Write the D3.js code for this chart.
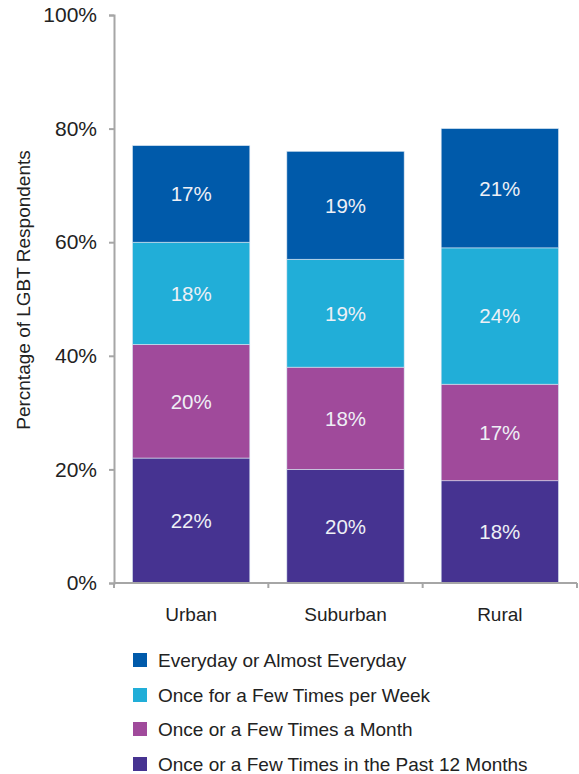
<!DOCTYPE html>
<html>
<head>
<meta charset="utf-8">
<script src="https://cdn.jsdelivr.net/npm/d3@7"></script>
<style>
  html, body { margin: 0; padding: 0; background: #fff; }
  svg { display: block; font-family: "Liberation Sans", Arial, sans-serif; }
</style>
</head>
<body>
<svg id="chart" width="579" height="774"></svg>
<script>
// Community types on the x axis
const categories = ["Urban", "Suburban", "Rural"];

// Frequency series, stacked bottom to top (percent of respondents)
const seriesNames = [
  "Once or a Few Times in the Past 12 Months",
  "Once or a Few Times a Month",
  "Once for a Few Times per Week",
  "Everyday or Almost Everyday"
];
const pastYear  = [22, 20, 18];
const perMonth  = [20, 18, 17];
const perWeek   = [18, 19, 24];
const everyday  = [17, 19, 21];

const seriesColors = ["#463391", "#A04A9B", "#21AED8", "#005AAA"];

const yTicks = [0, 20, 40, 60, 80, 100];

// Legend lists the series top-down, in reverse stacking order
const legendOrder = [3, 2, 1, 0];

const seriesValues = [pastYear, perMonth, perWeek, everyday];

const rows = categories.map((c, i) => {
  const r = { category: c };
  seriesNames.forEach((s, k) => { r[s] = seriesValues[k][i]; });
  return r;
});

const svg = d3.select("#chart");
const margin = { left: 114, right: 2, top: 15, bottom: 191 };
const W = 579, H = 774;
const plotBottom = H - margin.bottom; // 583

const x = d3.scaleBand()
  .domain(categories)
  .range([margin.left, 577])
  .paddingInner(0.24)
  .paddingOuter(0.12);

const y = d3.scaleLinear()
  .domain([0, 100])
  .range([plotBottom, margin.top]);

const stack = d3.stack().keys(seriesNames);
const stacked = stack(rows);

// Bars
const layers = svg.append("g").selectAll("g")
  .data(stacked)
  .join("g")
  .attr("fill", (d, i) => seriesColors[i]);

layers.selectAll("rect")
  .data(d => d.map(p => ({ p, key: d.key })))
  .join("rect")
  .attr("x", d => x(d.p.data.category))
  .attr("width", x.bandwidth())
  .attr("y", d => y(d.p[1]))
  .attr("height", d => y(d.p[0]) - y(d.p[1]))
  .attr("stroke", "#d8e4f0")
  .attr("stroke-width", 0.6);

// Value labels
layers.selectAll("text")
  .data(d => d.map(p => ({ p, key: d.key })))
  .join("text")
  .attr("x", d => x(d.p.data.category) + x.bandwidth() / 2)
  .attr("y", d => (y(d.p[0]) + y(d.p[1])) / 2)
  .attr("dy", "0.36em")
  .attr("text-anchor", "middle")
  .attr("fill", "#eef0f6")
  .attr("font-size", 20.5)
  .text(d => (d.p[1] - d.p[0]) + "%");

// Y axis
const yAxis = svg.append("g")
  .attr("transform", `translate(${margin.left},0)`)
  .call(d3.axisLeft(y).tickValues(yTicks).tickFormat(d => d + "%").tickSize(5).tickPadding(12));
yAxis.select(".domain").attr("stroke", "#a6a6a6").attr("stroke-width", 2);
yAxis.selectAll(".tick line").attr("stroke", "#a6a6a6").attr("stroke-width", 2);
yAxis.selectAll(".tick text")
  .attr("font-size", 21)
  .attr("fill", "#222")
  .attr("font-family", "Liberation Sans, Arial, sans-serif");

// X axis: baseline with ticks at band boundaries
const xBase = svg.append("g");
const xr = x.range();
xBase.append("line")
  .attr("x1", xr[0]).attr("x2", xr[1])
  .attr("y1", plotBottom).attr("y2", plotBottom)
  .attr("stroke", "#a6a6a6").attr("stroke-width", 2);
const boundaries = [xr[0]].concat(categories.map(c => x(c) + x.bandwidth() + x.step() * x.paddingInner() / 2));
boundaries[boundaries.length - 1] = xr[1];
xBase.selectAll("line.tk")
  .data(boundaries)
  .join("line")
  .attr("class", "tk")
  .attr("x1", d => d).attr("x2", d => d)
  .attr("y1", plotBottom).attr("y2", plotBottom + 5)
  .attr("stroke", "#a6a6a6").attr("stroke-width", 2);
xBase.selectAll("text")
  .data(categories)
  .join("text")
  .attr("x", d => x(d) + x.bandwidth() / 2)
  .attr("y", 621)
  .attr("text-anchor", "middle")
  .attr("font-size", 19)
  .attr("fill", "#222")
  .text(d => d);

// Y axis title
svg.append("text")
  .attr("transform", "translate(30,290) rotate(-90)")
  .attr("text-anchor", "middle")
  .attr("font-size", 19)
  .attr("fill", "#222")
  .text("Percntage of LGBT Respondents");

// Legend
const legend = svg.append("g");
const legendY = [660, 695, 729, 764];
legendOrder.forEach((k, i) => {
  legend.append("rect")
    .attr("x", 133).attr("y", legendY[i] - 7)
    .attr("width", 14).attr("height", 14)
    .attr("fill", seriesColors[k]);
  legend.append("text")
    .attr("x", 158).attr("y", legendY[i])
    .attr("dy", "0.36em")
    .attr("font-size", 19)
    .attr("fill", "#222")
    .text(seriesNames[k]);
});
</script>
</body>
</html>
